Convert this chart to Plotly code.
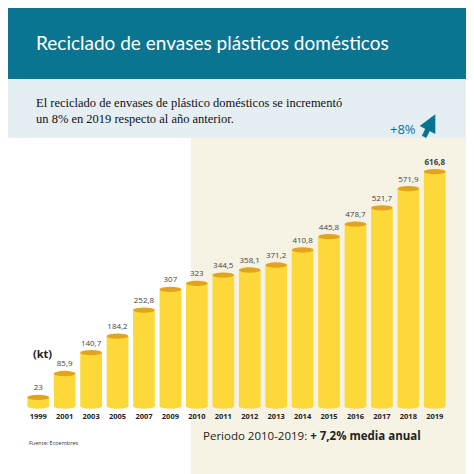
import plotly.graph_objects as go

# datos
years = ["1999", "2001", "2003", "2005", "2007", "2009", "2010", "2011", "2012",
         "2013", "2014", "2015", "2016", "2017", "2018", "2019"]
values = [23, 85.9, 140.7, 184.2, 252.8, 307, 323, 344.5, 358.1, 371.2,
          410.8, 445.8, 478.7, 521.7, 571.9, 616.8]
labels = [f"{v:g}".replace(".", ",") for v in values]
labels[-1] = "<b>616,8</b>"

xs = list(range(len(years)))
fig = go.Figure()

# cuerpo de los cilindros
fig.add_trace(go.Bar(x=xs, y=values, width=0.82, marker=dict(color="#fcd838", line_width=0),
                     hoverinfo="skip"))
# etiquetas de valor
fig.add_trace(go.Scatter(x=xs, y=[v + 24 for v in values], mode="text", text=labels,
                         textfont=dict(size=8, color="#444", family="Open Sans"),
                         hoverinfo="skip"))

shapes = [
    dict(type="rect", xref="paper", yref="paper", x0=-0.1, x1=1.1, y0=1.226, y1=1.6,
         fillcolor="#0a7591", line_width=0, layer="below"),
    dict(type="rect", xref="paper", yref="paper", x0=-0.1, x1=1.1, y0=1.007, y1=1.226,
         fillcolor="#e5eef2", line_width=0, layer="below"),
    dict(type="rect", xref="paper", yref="paper", x0=0.392, x1=1.1, y0=-0.3, y1=1.007,
         fillcolor="#f6f2e4", line_width=0, layer="below"),
]
# tapas y bases elipticas
for x, v in zip(xs, values):
    shapes.append(dict(type="circle", xref="x", yref="y", x0=x - 0.41, x1=x + 0.41,
                       y0=-7, y1=7, fillcolor="#fcd838", line_width=0))
    shapes.append(dict(type="circle", xref="x", yref="y", x0=x - 0.41, x1=x + 0.41,
                       y0=v - 7, y1=v + 7, fillcolor="#e2a41c", line_width=0))

annotations = [
    dict(text="Reciclado de envases plásticos domésticos", xref="paper", yref="paper",
         x=0.021, y=1.41, showarrow=False, xanchor="left",
         font=dict(size=19, color="white", family="Lato")),
    dict(text="El reciclado de envases de plástico domésticos se incrementó<br>un 8% en 2019 respecto al año anterior.",
         xref="paper", yref="paper", x=0.021, y=1.17, showarrow=False, xanchor="left", align="left",
         font=dict(size=12.5, color="#111", family="Liberation Serif")),
    dict(text="+8%", xref="paper", yref="paper", x=0.93, y=1.08, showarrow=False,
         font=dict(size=13, color="#0a7591", family="Open Sans")),
    dict(text="", xref="paper", yref="paper", x=0.97, y=1.095, ax=-12, ay=24,
         showarrow=True, arrowhead=2, arrowsize=0.7,
         arrowwidth=5, arrowcolor="#0a7591"),
    dict(text="<b>(kt)</b>", xref="paper", yref="paper", x=0.015, y=0.175, showarrow=False,
         font=dict(size=11, color="#222", family="Open Sans")),
    dict(text="Periodo 2010-2019: <b>+ 7,2% media anual</b>", xref="paper", yref="paper",
         x=0.94, y=-0.13, showarrow=False, xanchor="right",
         font=dict(size=11.5, color="#222", family="Open Sans")),
    dict(text="Fuente: Ecoembres", xref="paper", yref="paper", x=0.005, y=-0.145,
         showarrow=False, xanchor="left", font=dict(size=5.5, color="#333", family="Open Sans")),
]

fig.update_layout(
    width=474, height=474, margin=dict(l=17, r=34, t=132, b=72),
    paper_bgcolor="white", plot_bgcolor="rgba(0,0,0,0)", showlegend=False,
    shapes=shapes, annotations=annotations,
    xaxis=dict(tickvals=xs, ticktext=[f"<b>{y}</b>" for y in years], range=[-0.5, 15.5],
               showgrid=False, zeroline=False, ticks="", ticklen=0,
               tickfont=dict(size=7.5, color="#222", family="Open Sans")),
    yaxis=dict(range=[-10, 700], visible=False),
)

fig.write_html("out.html")
